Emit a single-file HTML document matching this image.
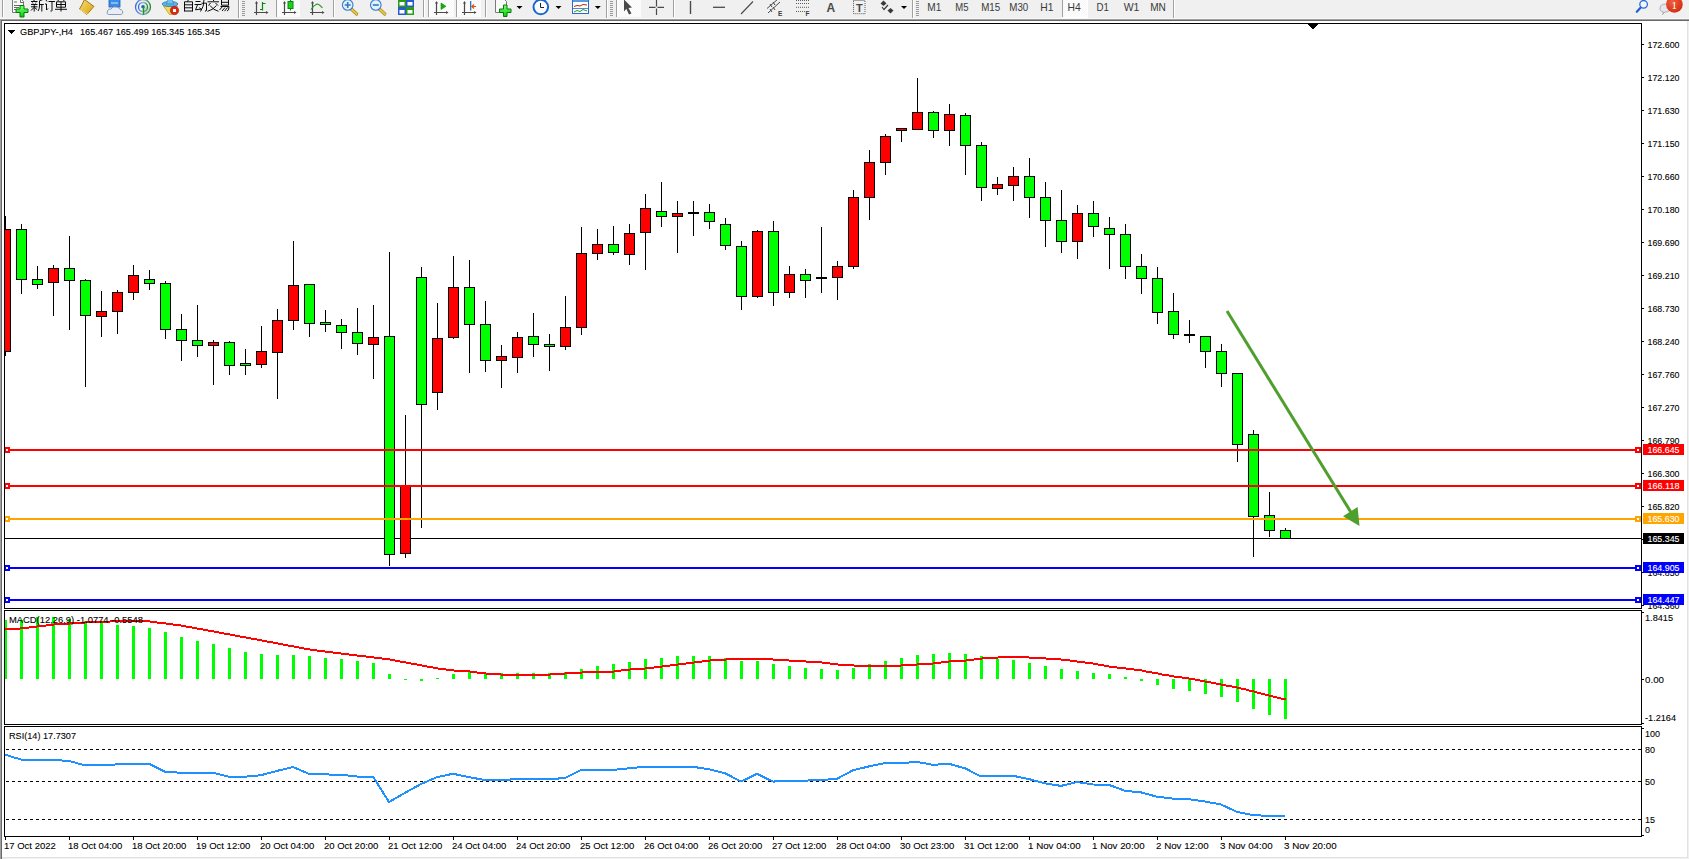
<!DOCTYPE html>
<html><head><meta charset="utf-8"><style>
html,body{margin:0;padding:0;width:1689px;height:859px;overflow:hidden;background:#f0f0f0}
svg{display:block}
</style></head><body>
<svg width="1689" height="859" viewBox="0 0 1689 859" shape-rendering="crispEdges" font-family='"Liberation Sans", sans-serif'>
<defs><clipPath id="cmain"><rect x="5" y="24" width="1636" height="584"/></clipPath><clipPath id="cmacd"><rect x="5" y="611" width="1636" height="113"/></clipPath><clipPath id="crsi"><rect x="5" y="727" width="1636" height="109"/></clipPath></defs>
<rect x="0" y="0" width="1689" height="859" fill="#f0f0f0"/>
<g shape-rendering="auto">
<defs><pattern id="chk" width="2" height="2" patternUnits="userSpaceOnUse"><rect width="2" height="2" fill="#f7f7f7"/><rect width="1" height="1" fill="#ffffff"/><rect x="1" y="1" width="1" height="1" fill="#ffffff"/></pattern><linearGradient id="gplus" x1="0" y1="0" x2="0" y2="1"><stop offset="0" stop-color="#80ff80"/><stop offset="1" stop-color="#00d000"/></linearGradient><radialGradient id="gbadge" cx="0.4" cy="0.35" r="0.7"><stop offset="0" stop-color="#f06040"/><stop offset="1" stop-color="#d42a10"/></radialGradient></defs>
<rect x="2" y="0" width="1" height="17" fill="#a0a0a0"/>
<rect x="3" y="0" width="1" height="17" fill="#ffffff"/>
<path d="M12.5 -1 H21 L23.5 1.5 V12.5 H12.5 Z" fill="#fafafa" stroke="#7a7a7a" stroke-width="1"/>
<path d="M14 2 H17 M14 5.5 H20 M14 7.5 H19 M14 9.5 H16" stroke="#6a6a6a" stroke-width="1"/>
<path d="M20.5 -1 V2.5 H24" stroke="#6a6a6a" stroke-width="1" fill="none"/>
<path d="M20 5.5 H24 V9 H28 V12.5 H24 V17 H20 V12.5 H16 V9 H20 Z" fill="url(#gplus)" stroke="#067a06" stroke-width="1"/>
<g stroke="#000" stroke-width="0.95" fill="none"><path d="M34 -0.5 V1 M31 1.5 H37.5 M32.5 2.5 L33 3.5 M36 2.5 L35.5 3.5 M31 4.5 H37.5 M31 6.8 H37.5 M34.2 4.5 V11.5 M34 7.5 L31 10.5 M34.5 7.5 L37 9.5"/><path d="M43 -0.5 L39.5 0.8 V6 Q39.5 9 38 11 M39.5 4.5 H43.8 M41.8 4.5 V11.5"/><path d="M46 0 L47 1.5 M45 4 H46.5 V10 L48 8.5 M48.5 1.5 H55 M52 1.5 V10.5 Q52 11.5 50.5 11"/><path d="M57.5 -0.5 L58.5 1 M64.5 -0.5 L63.5 1 M56.5 1.8 H65.5 V7.2 H56.5 Z M56.5 4.5 H65.5 M61 1.8 V11.5 M55 9.3 H67"/></g>
<defs><linearGradient id="gbook" x1="0" y1="0" x2="1" y2="1"><stop offset="0" stop-color="#f8e070"/><stop offset="1" stop-color="#d8a010"/></linearGradient></defs>
<path d="M84.5 -0.5 L94 6.5 L87 14.5 L79.5 9 Q82 5 84.5 -0.5 Z" fill="url(#gbook)" stroke="#9a6a10" stroke-width="0.9"/>
<path d="M80 9.5 L88 14.5 L94.5 7" stroke="#fff2b0" stroke-width="0.8" fill="none"/>
<rect x="109" y="-1" width="11" height="8" fill="#3a8ee8" stroke="#1e5eb8" stroke-width="0.8"/>
<path d="M111 3 H118" stroke="#cfe6ff" stroke-width="1"/>
<path d="M108.5 14.5 Q106 14 107.5 11 Q108 8.5 111 9 Q112.5 6 116 7 Q119 6.5 120 9.5 Q123.5 10 122.5 13.5 Q122 14.5 120 14.5 Z" fill="#e8eef8" stroke="#8090b0" stroke-width="0.9"/>
<defs><linearGradient id="grad" x1="0" y1="0" x2="1" y2="0"><stop offset="0" stop-color="#3a6ad8"/><stop offset="0.5" stop-color="#9ab8d8"/><stop offset="1" stop-color="#2a8a40"/></linearGradient><radialGradient id="gradf" cx="0" cy="0" r="1"><stop offset="0" stop-color="#e8f4e0"/><stop offset="1" stop-color="#7ac080"/></radialGradient></defs>
<path d="M143 7 L151 7 A8 8 0 0 1 143 15 Z" fill="#b8dcb0" opacity="0.8"/>
<path d="M143 -1 A8 8 0 0 1 151 7 L143 7 Z" fill="#d8ecd8" opacity="0.7"/>
<g fill="none" stroke="url(#grad)" stroke-width="1.3"><circle cx="143" cy="7" r="7.5"/><circle cx="143" cy="7" r="4.5"/></g>
<circle cx="143" cy="6.8" r="1.8" fill="#2a5ad0"/>
<path d="M143.5 7 V14.8" stroke="#10a010" stroke-width="1.4"/>
<path d="M163.5 6 L177.5 6 L172 14.5 L169.5 14.5 Z" fill="#f4dc50" stroke="#c09a20" stroke-width="0.8"/>
<ellipse cx="170" cy="4" rx="7.8" ry="2.6" fill="#5ab4e4" stroke="#2a78b8" stroke-width="0.8"/>
<path d="M166.5 4 Q167 -1 170 -1 Q173 -1 173.5 4 Z" fill="#72c0ec" stroke="#2a78b8" stroke-width="0.6"/>
<circle cx="174.5" cy="10.5" r="4.2" fill="#d82a18" stroke="#a81a08" stroke-width="0.6"/>
<rect x="173" y="9" width="3" height="3" fill="#fff"/>
<g stroke="#000" stroke-width="0.95" fill="none"><path d="M188.5 -0.5 L187.5 1.5 M184.5 1.8 H192.5 V11.5 M184.5 1.8 V11.5 M184.5 4.8 H192.5 M184.5 7.8 H192.5 M184.5 11 H192.5"/><path d="M195.5 1.5 H200.5 M194.5 4.5 H201.5 M197.5 4.8 L195.5 9.8 L201.5 9 M199.5 7.5 L201 9.5"/><path d="M201.5 3.2 H206.5 V10 Q206.5 11.5 205 11 M204 -0.5 Q204 7 200.5 11.5"/><path d="M213 -0.5 L213.8 1 M207.5 1.8 H219 M210.5 3 L208.5 5.5 M215.5 3 L218 5.5 M210 5.5 Q213 10 218.5 11.3 M216.5 5.5 Q213 10 207.5 11.3"/><path d="M221.5 -0.5 V5.2 H228.5 V-0.5 M221.5 2.3 H228.5 M220.5 6.5 H229 Q229 11 227 11 M222.5 6.5 L219.5 10 M225 7.5 L222 11 M227.5 7.5 L224.5 11.2"/></g>
<rect x="238" y="0" width="1" height="19" fill="#a0a0a0"/>
<rect x="239" y="0" width="1" height="19" fill="#ffffff"/>
<rect x="242" y="1" width="3" height="1" fill="#9a9a9a"/>
<rect x="242" y="3" width="3" height="1" fill="#9a9a9a"/>
<rect x="242" y="5" width="3" height="1" fill="#9a9a9a"/>
<rect x="242" y="7" width="3" height="1" fill="#9a9a9a"/>
<rect x="242" y="9" width="3" height="1" fill="#9a9a9a"/>
<rect x="242" y="11" width="3" height="1" fill="#9a9a9a"/>
<rect x="242" y="13" width="3" height="1" fill="#9a9a9a"/>
<rect x="242" y="15" width="3" height="1" fill="#9a9a9a"/>
<path d="M256.5 2 V15 M254 12.5 H267.5" stroke="#4a4a4a" stroke-width="1.2" fill="none"/>
<polygon points="255,3.5 256.5,1 258,3.5" fill="#4a4a4a"/><polygon points="266,11 268.5,12.5 266,14" fill="#4a4a4a"/>
<path d="M262.5 2 V10.5 M262.5 3.5 H265.5 M260 9.5 H262.5" stroke="#0a8a0a" stroke-width="1.2" fill="none"/>
<rect x="276" y="0" width="1" height="17" fill="#a0a0a0"/>
<rect x="277" y="0" width="1" height="17" fill="#ffffff"/>
<rect x="277" y="0" width="23" height="17" fill="url(#chk)"/>
<path d="M284.5 2 V15 M282 12.5 H295.5" stroke="#4a4a4a" stroke-width="1.2" fill="none"/>
<polygon points="283,3.5 284.5,1 286,3.5" fill="#4a4a4a"/><polygon points="294,11 296.5,12.5 294,14" fill="#4a4a4a"/>
<path d="M290.5 -1 V10.5" stroke="#0a8a0a" stroke-width="1"/>
<rect x="288" y="1.5" width="5" height="7" fill="#20d020" stroke="#0a8a0a" stroke-width="1"/>
<path d="M312.5 2 V15 M310 12.5 H323.5" stroke="#4a4a4a" stroke-width="1.2" fill="none"/>
<polygon points="311,3.5 312.5,1 314,3.5" fill="#4a4a4a"/><polygon points="322,11 324.5,12.5 322,14" fill="#4a4a4a"/>
<path d="M311 9.5 Q314 5 317 4 Q319 4 322.5 8" stroke="#1a9a1a" stroke-width="1.1" fill="none"/>
<rect x="333" y="0" width="1" height="17" fill="#a0a0a0"/>
<rect x="334" y="0" width="1" height="17" fill="#ffffff"/>
<path d="M350.7 8.5 L356.7 14" stroke="#a08020" stroke-width="3.2" stroke-linecap="round"/>
<path d="M350.7 8.5 L356.7 14" stroke="#e8c840" stroke-width="2" stroke-linecap="round"/>
<circle cx="347.7" cy="5" r="5.3" fill="#dff2ff" stroke="#3a7cc8" stroke-width="1.1"/>
<path d="M344.7 5 H350.7 M347.7 2 V8" stroke="#3a78b8" stroke-width="1.6"/>
<path d="M378.8 8.5 L384.8 14" stroke="#a08020" stroke-width="3.2" stroke-linecap="round"/>
<path d="M378.8 8.5 L384.8 14" stroke="#e8c840" stroke-width="2" stroke-linecap="round"/>
<circle cx="375.8" cy="5" r="5.3" fill="#dff2ff" stroke="#3a7cc8" stroke-width="1.1"/>
<path d="M372.8 5 H378.8" stroke="#3a78b8" stroke-width="1.6"/>
<rect x="398" y="-1" width="8" height="8" fill="#2a9a1a"/>
<rect x="399.5" y="2" width="5" height="3.5" fill="#ffffff"/>
<rect x="406" y="-1" width="8" height="8" fill="#2a5ad0"/>
<rect x="407.5" y="2" width="5" height="3.5" fill="#ffffff"/>
<rect x="398" y="7" width="8" height="8" fill="#2a5ad0"/>
<rect x="399.5" y="10" width="5" height="3.5" fill="#ffffff"/>
<rect x="406" y="7" width="8" height="8" fill="#2a9a1a"/>
<rect x="407.5" y="10" width="5" height="3.5" fill="#ffffff"/>
<rect x="423" y="0" width="1" height="17" fill="#a0a0a0"/>
<rect x="424" y="0" width="1" height="17" fill="#ffffff"/>
<rect x="428" y="0" width="1" height="17" fill="#a0a0a0"/>
<rect x="429" y="0" width="1" height="17" fill="#ffffff"/>
<rect x="430" y="0" width="24" height="17" fill="url(#chk)"/>
<path d="M436.5 2 V15 M434 12.5 H447.5" stroke="#4a4a4a" stroke-width="1.2" fill="none"/>
<polygon points="435,3.5 436.5,1 438,3.5" fill="#4a4a4a"/><polygon points="446,11 448.5,12.5 446,14" fill="#4a4a4a"/>
<polygon points="441,3 446,6.3 441,9.5" fill="#10b010" stroke="#0a8a0a" stroke-width="0.6"/>
<rect x="456" y="0" width="1" height="17" fill="#a0a0a0"/>
<rect x="457" y="0" width="1" height="17" fill="#ffffff"/>
<rect x="458" y="0" width="23" height="17" fill="url(#chk)"/>
<path d="M464.5 2 V15 M462 12.5 H475.5" stroke="#4a4a4a" stroke-width="1.2" fill="none"/>
<polygon points="463,3.5 464.5,1 466,3.5" fill="#4a4a4a"/><polygon points="474,11 476.5,12.5 474,14" fill="#4a4a4a"/>
<path d="M470.7 1 V10.5" stroke="#1a6ab8" stroke-width="1.2"/>
<path d="M476 6.5 H472 M474 4.5 L471.8 6.5 L474 8.5" stroke="#e05010" stroke-width="1.2" fill="none"/>
<rect x="485" y="0" width="1" height="17" fill="#a0a0a0"/>
<rect x="486" y="0" width="1" height="17" fill="#ffffff"/>
<path d="M495.5 -1 H504 L506.5 1.5 V12.5 H495.5 Z" fill="#fafafa" stroke="#7a7a7a" stroke-width="1"/>
<path d="M503.5 5 H507 V9 H511 V12.5 H507 V16.5 H503.5 V12.5 H499.5 V9 H503.5 Z" fill="url(#gplus)" stroke="#067a06" stroke-width="1"/>
<polygon points="516.5,6 522.5,6 519.5,9" fill="#000"/>
<circle cx="540.8" cy="7" r="7.3" fill="#fafcff" stroke="#1a66cc" stroke-width="2"/>
<path d="M540.5 3 V7.5 H544" stroke="#222" stroke-width="1" fill="none"/>
<polygon points="555.5,6 561.5,6 558.5,9" fill="#000"/>
<rect x="572.5" y="-0.5" width="16" height="14" fill="#ffffff" stroke="#2a6ac8" stroke-width="1"/>
<rect x="573" y="0" width="15" height="2" fill="#5a9ae0"/>
<path d="M574 6.5 L577 5.5 L580 6 L583 4.5 L587 5" stroke="#b02a10" stroke-width="1" fill="none"/>
<rect x="573" y="8" width="15" height="0.8" fill="#2a6ac8"/>
<path d="M574 12 L577 10.5 L580 11.5 L583 9.5 L587 11" stroke="#20a020" stroke-width="1" fill="none"/>
<polygon points="594.8,6 600.8,6 597.8,9" fill="#000"/>
<rect x="606" y="0" width="1" height="19" fill="#a0a0a0"/>
<rect x="607" y="0" width="1" height="19" fill="#ffffff"/>
<rect x="610" y="1" width="3" height="1" fill="#9a9a9a"/>
<rect x="610" y="3" width="3" height="1" fill="#9a9a9a"/>
<rect x="610" y="5" width="3" height="1" fill="#9a9a9a"/>
<rect x="610" y="7" width="3" height="1" fill="#9a9a9a"/>
<rect x="610" y="9" width="3" height="1" fill="#9a9a9a"/>
<rect x="610" y="11" width="3" height="1" fill="#9a9a9a"/>
<rect x="610" y="13" width="3" height="1" fill="#9a9a9a"/>
<rect x="610" y="15" width="3" height="1" fill="#9a9a9a"/>
<rect x="616" y="0" width="1" height="17" fill="#a0a0a0"/>
<rect x="617" y="0" width="1" height="17" fill="#ffffff"/>
<rect x="618" y="0" width="23" height="17" fill="url(#chk)"/>
<polygon points="624,-0.5 632,7.5 628.5,8 631.5,13.5 629,14.5 626.3,8.8 624,11.5" fill="#4a4a4a"/>
<path d="M649 7.3 H655.5 M657.5 7.3 H664 M656.5 0 V6.5 M656.5 8.5 V15" stroke="#4a4a4a" stroke-width="1.2" fill="none"/>
<rect x="673" y="0" width="1" height="17" fill="#a0a0a0"/>
<rect x="674" y="0" width="1" height="17" fill="#ffffff"/>
<path d="M690.5 1 V14" stroke="#4a4a4a" stroke-width="1.4"/>
<path d="M713 7.3 H725" stroke="#4a4a4a" stroke-width="1.3"/>
<path d="M741 14 L753 1.5" stroke="#4a4a4a" stroke-width="1.1"/>
<path d="M767 8.5 L778 -1 M768 13 L780 2 M770 4 L772 7 M773 2 L775 5 M770 9 L772 12 M773 7 L775 10" stroke="#4a4a4a" stroke-width="1" fill="none"/>
<text x="778" y="15.5" font-size="6.5" font-weight="bold" fill="#3a3a3a">E</text>
<path d="M796 0.5 H809 M796 3.5 H809 M796 7.3 H809 M796 11.5 H805" stroke="#4a4a4a" stroke-width="0.9" stroke-dasharray="1,1" fill="none"/>
<text x="805.5" y="16" font-size="6.5" font-weight="bold" fill="#3a3a3a">F</text>
<text x="826.5" y="12" font-size="12" font-weight="bold" fill="#4a4a4a">A</text>
<rect x="853.5" y="0.5" width="11.5" height="13.2" fill="none" stroke="#4a4a4a" stroke-width="0.9" stroke-dasharray="1,1"/>
<text x="856" y="12" font-size="11" font-weight="bold" fill="#4a4a4a">T</text>
<polygon points="880.5,3.5 883.5,0.5 886.5,3.5 883.5,6" fill="#3a3a3a"/>
<path d="M882 7 L884 9.5 L888 5" stroke="#3a3a3a" stroke-width="1.2" fill="none"/>
<polygon points="887.5,10.5 890.5,8 893.5,10.5 890.5,13.5" fill="#3a3a3a"/>
<polygon points="901,6 907,6 904,9" fill="#000"/>
<rect x="912" y="0" width="1" height="19" fill="#a0a0a0"/>
<rect x="913" y="0" width="1" height="19" fill="#ffffff"/>
<rect x="916" y="1" width="3" height="1" fill="#9a9a9a"/>
<rect x="916" y="3" width="3" height="1" fill="#9a9a9a"/>
<rect x="916" y="5" width="3" height="1" fill="#9a9a9a"/>
<rect x="916" y="7" width="3" height="1" fill="#9a9a9a"/>
<rect x="916" y="9" width="3" height="1" fill="#9a9a9a"/>
<rect x="916" y="11" width="3" height="1" fill="#9a9a9a"/>
<rect x="916" y="13" width="3" height="1" fill="#9a9a9a"/>
<rect x="916" y="15" width="3" height="1" fill="#9a9a9a"/>
<text x="927.3" y="11" font-size="10.2" fill="#3a3a3a" textLength="14" lengthAdjust="spacingAndGlyphs">M1</text>
<text x="955.3" y="11" font-size="10.2" fill="#3a3a3a" textLength="13.2" lengthAdjust="spacingAndGlyphs">M5</text>
<text x="981.2" y="11" font-size="10.2" fill="#3a3a3a" textLength="19" lengthAdjust="spacingAndGlyphs">M15</text>
<text x="1009.3" y="11" font-size="10.2" fill="#3a3a3a" textLength="19" lengthAdjust="spacingAndGlyphs">M30</text>
<text x="1040.2" y="11" font-size="10.2" fill="#3a3a3a" textLength="13.2" lengthAdjust="spacingAndGlyphs">H1</text>
<rect x="1063" y="0" width="24" height="17" fill="url(#chk)"/>
<rect x="1062" y="0" width="1" height="17" fill="#a0a0a0"/>
<rect x="1087" y="0" width="1" height="18" fill="#ffffff"/>
<rect x="1062" y="17" width="26" height="1" fill="#ffffff"/>
<text x="1067.6" y="11" font-size="10.2" fill="#3a3a3a" textLength="13.2" lengthAdjust="spacingAndGlyphs">H4</text>
<text x="1096.4" y="11" font-size="10.2" fill="#3a3a3a" textLength="12.4" lengthAdjust="spacingAndGlyphs">D1</text>
<text x="1123.7" y="11" font-size="10.2" fill="#3a3a3a" textLength="15.7" lengthAdjust="spacingAndGlyphs">W1</text>
<text x="1150.2" y="11" font-size="10.2" fill="#3a3a3a" textLength="15.7" lengthAdjust="spacingAndGlyphs">MN</text>
<rect x="1173" y="0" width="1" height="19" fill="#a0a0a0"/>
<rect x="1174" y="0" width="1" height="19" fill="#ffffff"/>
<path d="M1640.5 7.8 L1636.8 11.8" stroke="#2060d0" stroke-width="2.2" stroke-linecap="round"/>
<circle cx="1643.6" cy="4.3" r="3.8" fill="#f4f6ff" stroke="#2a6ad8" stroke-width="1.3"/>
<path d="M1662.5 14.5 L1663.5 12 Q1659.5 11.5 1660 8 Q1660.5 4 1665.5 4 Q1670.5 4 1670.5 8.5 Q1670 12 1665 12 Z" fill="#e4e4ee" stroke="#a0a0a0" stroke-width="0.8"/>
<circle cx="1674.4" cy="4.4" r="8.3" fill="url(#gbadge)"/>
<text x="1674.3" y="9" font-size="11" fill="#fff" text-anchor="middle" font-family="Liberation Serif, serif">1</text>
</g>
<rect x="0" y="18" width="1689" height="1" fill="#f9f9f9"/>
<rect x="0" y="19" width="1689" height="1" fill="#a0a0a0"/>
<rect x="0" y="20" width="1689" height="1" fill="#696969"/>
<rect x="0" y="20" width="1" height="839" fill="#a0a0a0"/>
<rect x="1" y="20" width="1" height="839" fill="#696969"/>
<rect x="2" y="21" width="1685" height="836" fill="#ffffff"/>
<rect x="1687" y="21" width="1" height="837" fill="#e3e3e3"/>
<rect x="2" y="857" width="1686" height="1" fill="#e3e3e3"/>
<rect x="4" y="23" width="1638" height="1" fill="#000"/>
<rect x="4" y="608" width="1638" height="1" fill="#000"/>
<rect x="4" y="23" width="1" height="586" fill="#000"/>
<rect x="1641" y="23" width="1" height="586" fill="#000"/>
<rect x="4" y="610" width="1638" height="1" fill="#000"/>
<rect x="4" y="724" width="1638" height="1" fill="#000"/>
<rect x="4" y="610" width="1" height="115" fill="#000"/>
<rect x="1641" y="610" width="1" height="115" fill="#000"/>
<rect x="4" y="726" width="1638" height="1" fill="#000"/>
<rect x="4" y="836" width="1638" height="1" fill="#000"/>
<rect x="4" y="726" width="1" height="111" fill="#000"/>
<rect x="1641" y="726" width="1" height="111" fill="#000"/>
<g clip-path="url(#cmain)">
<rect x="5" y="538" width="1636" height="1" fill="#000"/>
<rect x="5" y="216" width="1" height="140" fill="#000"/>
<rect x="0" y="229" width="11" height="123" fill="#000"/>
<rect x="1" y="230" width="9" height="121" fill="#ff0000"/>
<rect x="21" y="224" width="1" height="70" fill="#000"/>
<rect x="16" y="229" width="11" height="51" fill="#000"/>
<rect x="17" y="230" width="9" height="49" fill="#00ff00"/>
<rect x="37" y="266" width="1" height="23" fill="#000"/>
<rect x="32" y="279" width="11" height="6" fill="#000"/>
<rect x="33" y="280" width="9" height="4" fill="#00ff00"/>
<rect x="53" y="265" width="1" height="51" fill="#000"/>
<rect x="48" y="268" width="11" height="15" fill="#000"/>
<rect x="49" y="269" width="9" height="13" fill="#ff0000"/>
<rect x="69" y="236" width="1" height="94" fill="#000"/>
<rect x="64" y="268" width="11" height="13" fill="#000"/>
<rect x="65" y="269" width="9" height="11" fill="#00ff00"/>
<rect x="85" y="279" width="1" height="108" fill="#000"/>
<rect x="80" y="280" width="11" height="36" fill="#000"/>
<rect x="81" y="281" width="9" height="34" fill="#00ff00"/>
<rect x="101" y="291" width="1" height="46" fill="#000"/>
<rect x="96" y="311" width="11" height="6" fill="#000"/>
<rect x="97" y="312" width="9" height="4" fill="#ff0000"/>
<rect x="117" y="290" width="1" height="44" fill="#000"/>
<rect x="112" y="292" width="11" height="20" fill="#000"/>
<rect x="113" y="293" width="9" height="18" fill="#ff0000"/>
<rect x="133" y="265" width="1" height="35" fill="#000"/>
<rect x="128" y="275" width="11" height="18" fill="#000"/>
<rect x="129" y="276" width="9" height="16" fill="#ff0000"/>
<rect x="149" y="270" width="1" height="20" fill="#000"/>
<rect x="144" y="279" width="11" height="5" fill="#000"/>
<rect x="145" y="280" width="9" height="3" fill="#00ff00"/>
<rect x="165" y="281" width="1" height="58" fill="#000"/>
<rect x="160" y="283" width="11" height="47" fill="#000"/>
<rect x="161" y="284" width="9" height="45" fill="#00ff00"/>
<rect x="181" y="314" width="1" height="47" fill="#000"/>
<rect x="176" y="329" width="11" height="12" fill="#000"/>
<rect x="177" y="330" width="9" height="10" fill="#00ff00"/>
<rect x="197" y="305" width="1" height="52" fill="#000"/>
<rect x="192" y="340" width="11" height="6" fill="#000"/>
<rect x="193" y="341" width="9" height="4" fill="#00ff00"/>
<rect x="213" y="340" width="1" height="45" fill="#000"/>
<rect x="208" y="342" width="11" height="4" fill="#000"/>
<rect x="209" y="343" width="9" height="2" fill="#ff0000"/>
<rect x="229" y="341" width="1" height="34" fill="#000"/>
<rect x="224" y="342" width="11" height="24" fill="#000"/>
<rect x="225" y="343" width="9" height="22" fill="#00ff00"/>
<rect x="245" y="349" width="1" height="26" fill="#000"/>
<rect x="240" y="363" width="11" height="3" fill="#000"/>
<rect x="241" y="364" width="9" height="1" fill="#00ff00"/>
<rect x="261" y="326" width="1" height="42" fill="#000"/>
<rect x="256" y="351" width="11" height="14" fill="#000"/>
<rect x="257" y="352" width="9" height="12" fill="#ff0000"/>
<rect x="277" y="309" width="1" height="90" fill="#000"/>
<rect x="272" y="320" width="11" height="33" fill="#000"/>
<rect x="273" y="321" width="9" height="31" fill="#ff0000"/>
<rect x="293" y="241" width="1" height="89" fill="#000"/>
<rect x="288" y="285" width="11" height="36" fill="#000"/>
<rect x="289" y="286" width="9" height="34" fill="#ff0000"/>
<rect x="309" y="284" width="1" height="53" fill="#000"/>
<rect x="304" y="284" width="11" height="40" fill="#000"/>
<rect x="305" y="285" width="9" height="38" fill="#00ff00"/>
<rect x="325" y="310" width="1" height="22" fill="#000"/>
<rect x="320" y="322" width="11" height="3" fill="#000"/>
<rect x="321" y="323" width="9" height="1" fill="#00ff00"/>
<rect x="341" y="319" width="1" height="30" fill="#000"/>
<rect x="336" y="325" width="11" height="8" fill="#000"/>
<rect x="337" y="326" width="9" height="6" fill="#00ff00"/>
<rect x="357" y="308" width="1" height="47" fill="#000"/>
<rect x="352" y="332" width="11" height="12" fill="#000"/>
<rect x="353" y="333" width="9" height="10" fill="#00ff00"/>
<rect x="373" y="305" width="1" height="74" fill="#000"/>
<rect x="368" y="337" width="11" height="8" fill="#000"/>
<rect x="369" y="338" width="9" height="6" fill="#ff0000"/>
<rect x="389" y="252" width="1" height="314" fill="#000"/>
<rect x="384" y="336" width="11" height="219" fill="#000"/>
<rect x="385" y="337" width="9" height="217" fill="#00ff00"/>
<rect x="405" y="415" width="1" height="143" fill="#000"/>
<rect x="400" y="486" width="11" height="68" fill="#000"/>
<rect x="401" y="487" width="9" height="66" fill="#ff0000"/>
<rect x="421" y="267" width="1" height="261" fill="#000"/>
<rect x="416" y="277" width="11" height="128" fill="#000"/>
<rect x="417" y="278" width="9" height="126" fill="#00ff00"/>
<rect x="437" y="303" width="1" height="107" fill="#000"/>
<rect x="432" y="338" width="11" height="55" fill="#000"/>
<rect x="433" y="339" width="9" height="53" fill="#ff0000"/>
<rect x="453" y="256" width="1" height="83" fill="#000"/>
<rect x="448" y="287" width="11" height="51" fill="#000"/>
<rect x="449" y="288" width="9" height="49" fill="#ff0000"/>
<rect x="469" y="260" width="1" height="113" fill="#000"/>
<rect x="464" y="287" width="11" height="38" fill="#000"/>
<rect x="465" y="288" width="9" height="36" fill="#00ff00"/>
<rect x="485" y="301" width="1" height="71" fill="#000"/>
<rect x="480" y="324" width="11" height="37" fill="#000"/>
<rect x="481" y="325" width="9" height="35" fill="#00ff00"/>
<rect x="501" y="345" width="1" height="43" fill="#000"/>
<rect x="496" y="356" width="11" height="5" fill="#000"/>
<rect x="497" y="357" width="9" height="3" fill="#ff0000"/>
<rect x="517" y="332" width="1" height="41" fill="#000"/>
<rect x="512" y="337" width="11" height="21" fill="#000"/>
<rect x="513" y="338" width="9" height="19" fill="#ff0000"/>
<rect x="533" y="313" width="1" height="44" fill="#000"/>
<rect x="528" y="336" width="11" height="9" fill="#000"/>
<rect x="529" y="337" width="9" height="7" fill="#00ff00"/>
<rect x="549" y="334" width="1" height="37" fill="#000"/>
<rect x="544" y="344" width="11" height="3" fill="#000"/>
<rect x="545" y="345" width="9" height="1" fill="#00ff00"/>
<rect x="565" y="296" width="1" height="54" fill="#000"/>
<rect x="560" y="327" width="11" height="20" fill="#000"/>
<rect x="561" y="328" width="9" height="18" fill="#ff0000"/>
<rect x="581" y="227" width="1" height="108" fill="#000"/>
<rect x="576" y="253" width="11" height="75" fill="#000"/>
<rect x="577" y="254" width="9" height="73" fill="#ff0000"/>
<rect x="597" y="229" width="1" height="31" fill="#000"/>
<rect x="592" y="244" width="11" height="10" fill="#000"/>
<rect x="593" y="245" width="9" height="8" fill="#ff0000"/>
<rect x="613" y="226" width="1" height="29" fill="#000"/>
<rect x="608" y="244" width="11" height="9" fill="#000"/>
<rect x="609" y="245" width="9" height="7" fill="#00ff00"/>
<rect x="629" y="224" width="1" height="41" fill="#000"/>
<rect x="624" y="233" width="11" height="22" fill="#000"/>
<rect x="625" y="234" width="9" height="20" fill="#ff0000"/>
<rect x="645" y="194" width="1" height="76" fill="#000"/>
<rect x="640" y="208" width="11" height="25" fill="#000"/>
<rect x="641" y="209" width="9" height="23" fill="#ff0000"/>
<rect x="661" y="182" width="1" height="45" fill="#000"/>
<rect x="656" y="211" width="11" height="6" fill="#000"/>
<rect x="657" y="212" width="9" height="4" fill="#00ff00"/>
<rect x="677" y="201" width="1" height="52" fill="#000"/>
<rect x="672" y="213" width="11" height="4" fill="#000"/>
<rect x="673" y="214" width="9" height="2" fill="#ff0000"/>
<rect x="693" y="201" width="1" height="35" fill="#000"/>
<rect x="688" y="212" width="11" height="2" fill="#000"/>
<rect x="709" y="204" width="1" height="25" fill="#000"/>
<rect x="704" y="212" width="11" height="10" fill="#000"/>
<rect x="705" y="213" width="9" height="8" fill="#00ff00"/>
<rect x="725" y="218" width="1" height="32" fill="#000"/>
<rect x="720" y="224" width="11" height="22" fill="#000"/>
<rect x="721" y="225" width="9" height="20" fill="#00ff00"/>
<rect x="741" y="241" width="1" height="69" fill="#000"/>
<rect x="736" y="246" width="11" height="51" fill="#000"/>
<rect x="737" y="247" width="9" height="49" fill="#00ff00"/>
<rect x="757" y="230" width="1" height="68" fill="#000"/>
<rect x="752" y="231" width="11" height="66" fill="#000"/>
<rect x="753" y="232" width="9" height="64" fill="#ff0000"/>
<rect x="773" y="221" width="1" height="85" fill="#000"/>
<rect x="768" y="231" width="11" height="62" fill="#000"/>
<rect x="769" y="232" width="9" height="60" fill="#00ff00"/>
<rect x="789" y="266" width="1" height="32" fill="#000"/>
<rect x="784" y="274" width="11" height="19" fill="#000"/>
<rect x="785" y="275" width="9" height="17" fill="#ff0000"/>
<rect x="805" y="269" width="1" height="29" fill="#000"/>
<rect x="800" y="274" width="11" height="7" fill="#000"/>
<rect x="801" y="275" width="9" height="5" fill="#00ff00"/>
<rect x="821" y="227" width="1" height="66" fill="#000"/>
<rect x="816" y="277" width="11" height="2" fill="#000"/>
<rect x="837" y="261" width="1" height="39" fill="#000"/>
<rect x="832" y="266" width="11" height="12" fill="#000"/>
<rect x="833" y="267" width="9" height="10" fill="#ff0000"/>
<rect x="853" y="190" width="1" height="79" fill="#000"/>
<rect x="848" y="197" width="11" height="70" fill="#000"/>
<rect x="849" y="198" width="9" height="68" fill="#ff0000"/>
<rect x="869" y="150" width="1" height="70" fill="#000"/>
<rect x="864" y="162" width="11" height="36" fill="#000"/>
<rect x="865" y="163" width="9" height="34" fill="#ff0000"/>
<rect x="885" y="134" width="1" height="41" fill="#000"/>
<rect x="880" y="136" width="11" height="27" fill="#000"/>
<rect x="881" y="137" width="9" height="25" fill="#ff0000"/>
<rect x="901" y="128" width="1" height="14" fill="#000"/>
<rect x="896" y="128" width="11" height="3" fill="#000"/>
<rect x="897" y="129" width="9" height="1" fill="#ff0000"/>
<rect x="917" y="78" width="1" height="52" fill="#000"/>
<rect x="912" y="112" width="11" height="18" fill="#000"/>
<rect x="913" y="113" width="9" height="16" fill="#ff0000"/>
<rect x="933" y="111" width="1" height="27" fill="#000"/>
<rect x="928" y="112" width="11" height="19" fill="#000"/>
<rect x="929" y="113" width="9" height="17" fill="#00ff00"/>
<rect x="949" y="104" width="1" height="42" fill="#000"/>
<rect x="944" y="114" width="11" height="17" fill="#000"/>
<rect x="945" y="115" width="9" height="15" fill="#ff0000"/>
<rect x="965" y="113" width="1" height="62" fill="#000"/>
<rect x="960" y="115" width="11" height="31" fill="#000"/>
<rect x="961" y="116" width="9" height="29" fill="#00ff00"/>
<rect x="981" y="142" width="1" height="59" fill="#000"/>
<rect x="976" y="145" width="11" height="43" fill="#000"/>
<rect x="977" y="146" width="9" height="41" fill="#00ff00"/>
<rect x="997" y="177" width="1" height="18" fill="#000"/>
<rect x="992" y="184" width="11" height="5" fill="#000"/>
<rect x="993" y="185" width="9" height="3" fill="#ff0000"/>
<rect x="1013" y="167" width="1" height="34" fill="#000"/>
<rect x="1008" y="176" width="11" height="10" fill="#000"/>
<rect x="1009" y="177" width="9" height="8" fill="#ff0000"/>
<rect x="1029" y="158" width="1" height="60" fill="#000"/>
<rect x="1024" y="176" width="11" height="22" fill="#000"/>
<rect x="1025" y="177" width="9" height="20" fill="#00ff00"/>
<rect x="1045" y="182" width="1" height="65" fill="#000"/>
<rect x="1040" y="197" width="11" height="24" fill="#000"/>
<rect x="1041" y="198" width="9" height="22" fill="#00ff00"/>
<rect x="1061" y="190" width="1" height="63" fill="#000"/>
<rect x="1056" y="220" width="11" height="22" fill="#000"/>
<rect x="1057" y="221" width="9" height="20" fill="#00ff00"/>
<rect x="1077" y="205" width="1" height="54" fill="#000"/>
<rect x="1072" y="213" width="11" height="29" fill="#000"/>
<rect x="1073" y="214" width="9" height="27" fill="#ff0000"/>
<rect x="1093" y="201" width="1" height="36" fill="#000"/>
<rect x="1088" y="213" width="11" height="14" fill="#000"/>
<rect x="1089" y="214" width="9" height="12" fill="#00ff00"/>
<rect x="1109" y="217" width="1" height="52" fill="#000"/>
<rect x="1104" y="228" width="11" height="7" fill="#000"/>
<rect x="1105" y="229" width="9" height="5" fill="#00ff00"/>
<rect x="1125" y="224" width="1" height="55" fill="#000"/>
<rect x="1120" y="234" width="11" height="33" fill="#000"/>
<rect x="1121" y="235" width="9" height="31" fill="#00ff00"/>
<rect x="1141" y="254" width="1" height="40" fill="#000"/>
<rect x="1136" y="266" width="11" height="13" fill="#000"/>
<rect x="1137" y="267" width="9" height="11" fill="#00ff00"/>
<rect x="1157" y="267" width="1" height="57" fill="#000"/>
<rect x="1152" y="278" width="11" height="35" fill="#000"/>
<rect x="1153" y="279" width="9" height="33" fill="#00ff00"/>
<rect x="1173" y="293" width="1" height="46" fill="#000"/>
<rect x="1168" y="311" width="11" height="24" fill="#000"/>
<rect x="1169" y="312" width="9" height="22" fill="#00ff00"/>
<rect x="1189" y="320" width="1" height="23" fill="#000"/>
<rect x="1184" y="334" width="11" height="2" fill="#000"/>
<rect x="1205" y="336" width="1" height="32" fill="#000"/>
<rect x="1200" y="336" width="11" height="16" fill="#000"/>
<rect x="1201" y="337" width="9" height="14" fill="#00ff00"/>
<rect x="1221" y="344" width="1" height="43" fill="#000"/>
<rect x="1216" y="351" width="11" height="23" fill="#000"/>
<rect x="1217" y="352" width="9" height="21" fill="#00ff00"/>
<rect x="1237" y="373" width="1" height="89" fill="#000"/>
<rect x="1232" y="373" width="11" height="72" fill="#000"/>
<rect x="1233" y="374" width="9" height="70" fill="#00ff00"/>
<rect x="1253" y="430" width="1" height="127" fill="#000"/>
<rect x="1248" y="434" width="11" height="83" fill="#000"/>
<rect x="1249" y="435" width="9" height="81" fill="#00ff00"/>
<rect x="1269" y="492" width="1" height="45" fill="#000"/>
<rect x="1264" y="515" width="11" height="16" fill="#000"/>
<rect x="1265" y="516" width="9" height="14" fill="#00ff00"/>
<rect x="1285" y="528" width="1" height="10" fill="#000"/>
<rect x="1280" y="530" width="11" height="9" fill="#000"/>
<rect x="1281" y="531" width="9" height="7" fill="#00ff00"/>
<rect x="5" y="449" width="1636" height="2" fill="#ff0000"/>
<rect x="4" y="447" width="6" height="6" fill="#ff0000"/>
<rect x="6" y="449" width="2" height="2" fill="#fff"/>
<rect x="1635" y="447" width="6" height="6" fill="#ff0000"/>
<rect x="1637" y="449" width="2" height="2" fill="#fff"/>
<rect x="5" y="485" width="1636" height="2" fill="#ff0000"/>
<rect x="4" y="483" width="6" height="6" fill="#ff0000"/>
<rect x="6" y="485" width="2" height="2" fill="#fff"/>
<rect x="1635" y="483" width="6" height="6" fill="#ff0000"/>
<rect x="1637" y="485" width="2" height="2" fill="#fff"/>
<rect x="5" y="518" width="1636" height="2" fill="#ffa500"/>
<rect x="4" y="516" width="6" height="6" fill="#ffa500"/>
<rect x="6" y="518" width="2" height="2" fill="#fff"/>
<rect x="1635" y="516" width="6" height="6" fill="#ffa500"/>
<rect x="1637" y="518" width="2" height="2" fill="#fff"/>
<rect x="5" y="567" width="1636" height="2" fill="#0000ff"/>
<rect x="4" y="565" width="6" height="6" fill="#0000ff"/>
<rect x="6" y="567" width="2" height="2" fill="#fff"/>
<rect x="1635" y="565" width="6" height="6" fill="#0000ff"/>
<rect x="1637" y="567" width="2" height="2" fill="#fff"/>
<rect x="5" y="599" width="1636" height="2" fill="#0000ff"/>
<rect x="4" y="597" width="6" height="6" fill="#0000ff"/>
<rect x="6" y="599" width="2" height="2" fill="#fff"/>
<rect x="1635" y="597" width="6" height="6" fill="#0000ff"/>
<rect x="1637" y="599" width="2" height="2" fill="#fff"/>
</g>
<g shape-rendering="auto">
<line x1="1227" y1="311" x2="1352" y2="514" stroke="#4f9f2f" stroke-width="3"/>
<polygon points="1359.5,526 1343,516.3 1357.6,507" fill="#4f9f2f"/>
</g>
<rect x="8" y="30" width="7" height="1" fill="#000"/>
<rect x="9" y="31" width="5" height="1" fill="#000"/>
<rect x="10" y="32" width="3" height="1" fill="#000"/>
<rect x="11" y="33" width="1" height="1" fill="#000"/>
<text x="20" y="35" font-size="9.8" fill="#000" stroke="#000" stroke-width="0.1" textLength="53" lengthAdjust="spacingAndGlyphs" >GBPJPY-,H4</text>
<text x="80" y="35" font-size="9.8" fill="#000" stroke="#000" stroke-width="0.1" textLength="140" lengthAdjust="spacingAndGlyphs" >165.467 165.499 165.345 165.345</text>
<rect x="1308" y="24" width="10" height="1" fill="#000"/>
<rect x="1309" y="25" width="8" height="1" fill="#000"/>
<rect x="1310" y="26" width="6" height="1" fill="#000"/>
<rect x="1311" y="27" width="4" height="1" fill="#000"/>
<rect x="1312" y="28" width="2" height="1" fill="#000"/>
<rect x="1642" y="44" width="2" height="1" fill="#000"/>
<text x="1647.5" y="48" font-size="9.8" fill="#000" stroke="#000" stroke-width="0.1" textLength="32" lengthAdjust="spacingAndGlyphs" >172.600</text>
<rect x="1642" y="77" width="2" height="1" fill="#000"/>
<text x="1647.5" y="81" font-size="9.8" fill="#000" stroke="#000" stroke-width="0.1" textLength="32" lengthAdjust="spacingAndGlyphs" >172.120</text>
<rect x="1642" y="110" width="2" height="1" fill="#000"/>
<text x="1647.5" y="114" font-size="9.8" fill="#000" stroke="#000" stroke-width="0.1" textLength="32" lengthAdjust="spacingAndGlyphs" >171.630</text>
<rect x="1642" y="143" width="2" height="1" fill="#000"/>
<text x="1647.5" y="147" font-size="9.8" fill="#000" stroke="#000" stroke-width="0.1" textLength="32" lengthAdjust="spacingAndGlyphs" >171.150</text>
<rect x="1642" y="176" width="2" height="1" fill="#000"/>
<text x="1647.5" y="180" font-size="9.8" fill="#000" stroke="#000" stroke-width="0.1" textLength="32" lengthAdjust="spacingAndGlyphs" >170.660</text>
<rect x="1642" y="209" width="2" height="1" fill="#000"/>
<text x="1647.5" y="213" font-size="9.8" fill="#000" stroke="#000" stroke-width="0.1" textLength="32" lengthAdjust="spacingAndGlyphs" >170.180</text>
<rect x="1642" y="242" width="2" height="1" fill="#000"/>
<text x="1647.5" y="246" font-size="9.8" fill="#000" stroke="#000" stroke-width="0.1" textLength="32" lengthAdjust="spacingAndGlyphs" >169.690</text>
<rect x="1642" y="275" width="2" height="1" fill="#000"/>
<text x="1647.5" y="279" font-size="9.8" fill="#000" stroke="#000" stroke-width="0.1" textLength="32" lengthAdjust="spacingAndGlyphs" >169.210</text>
<rect x="1642" y="308" width="2" height="1" fill="#000"/>
<text x="1647.5" y="312" font-size="9.8" fill="#000" stroke="#000" stroke-width="0.1" textLength="32" lengthAdjust="spacingAndGlyphs" >168.730</text>
<rect x="1642" y="341" width="2" height="1" fill="#000"/>
<text x="1647.5" y="345" font-size="9.8" fill="#000" stroke="#000" stroke-width="0.1" textLength="32" lengthAdjust="spacingAndGlyphs" >168.240</text>
<rect x="1642" y="374" width="2" height="1" fill="#000"/>
<text x="1647.5" y="378" font-size="9.8" fill="#000" stroke="#000" stroke-width="0.1" textLength="32" lengthAdjust="spacingAndGlyphs" >167.760</text>
<rect x="1642" y="407" width="2" height="1" fill="#000"/>
<text x="1647.5" y="411" font-size="9.8" fill="#000" stroke="#000" stroke-width="0.1" textLength="32" lengthAdjust="spacingAndGlyphs" >167.270</text>
<rect x="1642" y="440" width="2" height="1" fill="#000"/>
<text x="1647.5" y="444" font-size="9.8" fill="#000" stroke="#000" stroke-width="0.1" textLength="32" lengthAdjust="spacingAndGlyphs" >166.790</text>
<rect x="1642" y="473" width="2" height="1" fill="#000"/>
<text x="1647.5" y="477" font-size="9.8" fill="#000" stroke="#000" stroke-width="0.1" textLength="32" lengthAdjust="spacingAndGlyphs" >166.300</text>
<rect x="1642" y="506" width="2" height="1" fill="#000"/>
<text x="1647.5" y="510" font-size="9.8" fill="#000" stroke="#000" stroke-width="0.1" textLength="32" lengthAdjust="spacingAndGlyphs" >165.820</text>
<rect x="1642" y="539" width="2" height="1" fill="#000"/>
<text x="1647.5" y="543" font-size="9.8" fill="#000" stroke="#000" stroke-width="0.1" textLength="32" lengthAdjust="spacingAndGlyphs" >165.340</text>
<rect x="1642" y="572" width="2" height="1" fill="#000"/>
<text x="1647.5" y="576" font-size="9.8" fill="#000" stroke="#000" stroke-width="0.1" textLength="32" lengthAdjust="spacingAndGlyphs" >164.850</text>
<rect x="1642" y="605" width="2" height="1" fill="#000"/>
<text x="1647.5" y="609" font-size="9.8" fill="#000" stroke="#000" stroke-width="0.1" textLength="32" lengthAdjust="spacingAndGlyphs" >164.360</text>
<rect x="1643" y="444" width="41" height="11" fill="#ff0000"/>
<text x="1647.5" y="453" font-size="9.8" fill="#fff" stroke="#fff" stroke-width="0.1" textLength="32" lengthAdjust="spacingAndGlyphs" >166.645</text>
<rect x="1643" y="480" width="41" height="11" fill="#ff0000"/>
<text x="1647.5" y="489" font-size="9.8" fill="#fff" stroke="#fff" stroke-width="0.1" textLength="32" lengthAdjust="spacingAndGlyphs" >166.118</text>
<rect x="1643" y="513" width="41" height="11" fill="#ffa500"/>
<text x="1647.5" y="522" font-size="9.8" fill="#fff" stroke="#fff" stroke-width="0.1" textLength="32" lengthAdjust="spacingAndGlyphs" >165.630</text>
<rect x="1643" y="533" width="41" height="11" fill="#000"/>
<text x="1647.5" y="542" font-size="9.8" fill="#fff" stroke="#fff" stroke-width="0.1" textLength="32" lengthAdjust="spacingAndGlyphs" >165.345</text>
<rect x="1643" y="562" width="41" height="11" fill="#0000ff"/>
<text x="1647.5" y="571" font-size="9.8" fill="#fff" stroke="#fff" stroke-width="0.1" textLength="32" lengthAdjust="spacingAndGlyphs" >164.905</text>
<rect x="1643" y="594" width="41" height="11" fill="#0000ff"/>
<text x="1647.5" y="603" font-size="9.8" fill="#fff" stroke="#fff" stroke-width="0.1" textLength="32" lengthAdjust="spacingAndGlyphs" >164.447</text>
<g clip-path="url(#cmacd)">
<rect x="4" y="620" width="3" height="59" fill="#00ff00"/>
<rect x="20" y="620" width="3" height="59" fill="#00ff00"/>
<rect x="36" y="617" width="3" height="62" fill="#00ff00"/>
<rect x="52" y="617" width="3" height="62" fill="#00ff00"/>
<rect x="68" y="619" width="3" height="60" fill="#00ff00"/>
<rect x="84" y="621" width="3" height="58" fill="#00ff00"/>
<rect x="100" y="623" width="3" height="56" fill="#00ff00"/>
<rect x="116" y="625" width="3" height="54" fill="#00ff00"/>
<rect x="132" y="626" width="3" height="53" fill="#00ff00"/>
<rect x="148" y="628" width="3" height="51" fill="#00ff00"/>
<rect x="164" y="632" width="3" height="47" fill="#00ff00"/>
<rect x="180" y="637" width="3" height="42" fill="#00ff00"/>
<rect x="196" y="641" width="3" height="38" fill="#00ff00"/>
<rect x="212" y="644" width="3" height="35" fill="#00ff00"/>
<rect x="228" y="648" width="3" height="31" fill="#00ff00"/>
<rect x="244" y="652" width="3" height="27" fill="#00ff00"/>
<rect x="260" y="654" width="3" height="25" fill="#00ff00"/>
<rect x="276" y="655" width="3" height="24" fill="#00ff00"/>
<rect x="292" y="655" width="3" height="24" fill="#00ff00"/>
<rect x="308" y="656" width="3" height="23" fill="#00ff00"/>
<rect x="324" y="658" width="3" height="21" fill="#00ff00"/>
<rect x="340" y="659" width="3" height="20" fill="#00ff00"/>
<rect x="356" y="661" width="3" height="18" fill="#00ff00"/>
<rect x="372" y="663" width="3" height="16" fill="#00ff00"/>
<rect x="388" y="674" width="3" height="5" fill="#00ff00"/>
<rect x="404" y="679" width="3" height="1" fill="#00ff00"/>
<rect x="420" y="679" width="3" height="2" fill="#00ff00"/>
<rect x="436" y="678" width="3" height="1" fill="#00ff00"/>
<rect x="452" y="674" width="3" height="5" fill="#00ff00"/>
<rect x="468" y="672" width="3" height="7" fill="#00ff00"/>
<rect x="484" y="673" width="3" height="6" fill="#00ff00"/>
<rect x="500" y="673" width="3" height="6" fill="#00ff00"/>
<rect x="516" y="673" width="3" height="6" fill="#00ff00"/>
<rect x="532" y="673" width="3" height="6" fill="#00ff00"/>
<rect x="548" y="673" width="3" height="6" fill="#00ff00"/>
<rect x="564" y="672" width="3" height="7" fill="#00ff00"/>
<rect x="580" y="669" width="3" height="10" fill="#00ff00"/>
<rect x="596" y="666" width="3" height="13" fill="#00ff00"/>
<rect x="612" y="664" width="3" height="15" fill="#00ff00"/>
<rect x="628" y="662" width="3" height="17" fill="#00ff00"/>
<rect x="644" y="659" width="3" height="20" fill="#00ff00"/>
<rect x="660" y="658" width="3" height="21" fill="#00ff00"/>
<rect x="676" y="656" width="3" height="23" fill="#00ff00"/>
<rect x="692" y="656" width="3" height="23" fill="#00ff00"/>
<rect x="708" y="656" width="3" height="23" fill="#00ff00"/>
<rect x="724" y="658" width="3" height="21" fill="#00ff00"/>
<rect x="740" y="661" width="3" height="18" fill="#00ff00"/>
<rect x="756" y="661" width="3" height="18" fill="#00ff00"/>
<rect x="772" y="664" width="3" height="15" fill="#00ff00"/>
<rect x="788" y="666" width="3" height="13" fill="#00ff00"/>
<rect x="804" y="668" width="3" height="11" fill="#00ff00"/>
<rect x="820" y="669" width="3" height="10" fill="#00ff00"/>
<rect x="836" y="670" width="3" height="9" fill="#00ff00"/>
<rect x="852" y="668" width="3" height="11" fill="#00ff00"/>
<rect x="868" y="664" width="3" height="15" fill="#00ff00"/>
<rect x="884" y="661" width="3" height="18" fill="#00ff00"/>
<rect x="900" y="658" width="3" height="21" fill="#00ff00"/>
<rect x="916" y="655" width="3" height="24" fill="#00ff00"/>
<rect x="932" y="654" width="3" height="25" fill="#00ff00"/>
<rect x="948" y="653" width="3" height="26" fill="#00ff00"/>
<rect x="964" y="654" width="3" height="25" fill="#00ff00"/>
<rect x="980" y="656" width="3" height="23" fill="#00ff00"/>
<rect x="996" y="659" width="3" height="20" fill="#00ff00"/>
<rect x="1012" y="660" width="3" height="19" fill="#00ff00"/>
<rect x="1028" y="663" width="3" height="16" fill="#00ff00"/>
<rect x="1044" y="666" width="3" height="13" fill="#00ff00"/>
<rect x="1060" y="669" width="3" height="10" fill="#00ff00"/>
<rect x="1076" y="671" width="3" height="8" fill="#00ff00"/>
<rect x="1092" y="673" width="3" height="6" fill="#00ff00"/>
<rect x="1108" y="674" width="3" height="5" fill="#00ff00"/>
<rect x="1124" y="677" width="3" height="2" fill="#00ff00"/>
<rect x="1140" y="679" width="3" height="2" fill="#00ff00"/>
<rect x="1156" y="679" width="3" height="6" fill="#00ff00"/>
<rect x="1172" y="679" width="3" height="10" fill="#00ff00"/>
<rect x="1188" y="679" width="3" height="12" fill="#00ff00"/>
<rect x="1204" y="679" width="3" height="15" fill="#00ff00"/>
<rect x="1220" y="679" width="3" height="18" fill="#00ff00"/>
<rect x="1236" y="679" width="3" height="23" fill="#00ff00"/>
<rect x="1252" y="679" width="3" height="30" fill="#00ff00"/>
<rect x="1268" y="679" width="3" height="36" fill="#00ff00"/>
<rect x="1284" y="679" width="3" height="40" fill="#00ff00"/>
<rect x="5" y="628" width="15" height="2" fill="#ff0000"/>
<rect x="20" y="627" width="9" height="2" fill="#ff0000"/>
<rect x="29" y="626" width="8" height="2" fill="#ff0000"/>
<rect x="37" y="625" width="9" height="2" fill="#ff0000"/>
<rect x="46" y="624" width="8" height="2" fill="#ff0000"/>
<rect x="54" y="623" width="16" height="2" fill="#ff0000"/>
<rect x="70" y="622" width="15" height="2" fill="#ff0000"/>
<rect x="85" y="621" width="25" height="2" fill="#ff0000"/>
<rect x="110" y="620" width="40" height="2" fill="#ff0000"/>
<rect x="150" y="621" width="7" height="2" fill="#ff0000"/>
<rect x="157" y="622" width="9" height="2" fill="#ff0000"/>
<rect x="166" y="623" width="7" height="2" fill="#ff0000"/>
<rect x="173" y="624" width="8" height="2" fill="#ff0000"/>
<rect x="181" y="625" width="5" height="2" fill="#ff0000"/>
<rect x="186" y="626" width="6" height="2" fill="#ff0000"/>
<rect x="192" y="627" width="5" height="2" fill="#ff0000"/>
<rect x="197" y="628" width="6" height="2" fill="#ff0000"/>
<rect x="203" y="629" width="5" height="2" fill="#ff0000"/>
<rect x="208" y="630" width="6" height="2" fill="#ff0000"/>
<rect x="214" y="631" width="5" height="2" fill="#ff0000"/>
<rect x="219" y="632" width="5" height="2" fill="#ff0000"/>
<rect x="224" y="633" width="6" height="2" fill="#ff0000"/>
<rect x="230" y="634" width="5" height="2" fill="#ff0000"/>
<rect x="235" y="635" width="5" height="2" fill="#ff0000"/>
<rect x="240" y="636" width="6" height="2" fill="#ff0000"/>
<rect x="246" y="637" width="5" height="2" fill="#ff0000"/>
<rect x="251" y="638" width="6" height="2" fill="#ff0000"/>
<rect x="257" y="639" width="5" height="2" fill="#ff0000"/>
<rect x="262" y="640" width="5" height="2" fill="#ff0000"/>
<rect x="267" y="641" width="6" height="2" fill="#ff0000"/>
<rect x="273" y="642" width="5" height="2" fill="#ff0000"/>
<rect x="278" y="643" width="5" height="2" fill="#ff0000"/>
<rect x="283" y="644" width="5" height="2" fill="#ff0000"/>
<rect x="288" y="645" width="6" height="2" fill="#ff0000"/>
<rect x="294" y="646" width="5" height="2" fill="#ff0000"/>
<rect x="299" y="647" width="5" height="2" fill="#ff0000"/>
<rect x="304" y="648" width="6" height="2" fill="#ff0000"/>
<rect x="310" y="649" width="7" height="2" fill="#ff0000"/>
<rect x="317" y="650" width="8" height="2" fill="#ff0000"/>
<rect x="325" y="651" width="8" height="2" fill="#ff0000"/>
<rect x="333" y="652" width="8" height="2" fill="#ff0000"/>
<rect x="341" y="653" width="8" height="2" fill="#ff0000"/>
<rect x="349" y="654" width="8" height="2" fill="#ff0000"/>
<rect x="357" y="655" width="9" height="2" fill="#ff0000"/>
<rect x="366" y="656" width="8" height="2" fill="#ff0000"/>
<rect x="374" y="657" width="8" height="2" fill="#ff0000"/>
<rect x="382" y="658" width="8" height="2" fill="#ff0000"/>
<rect x="390" y="659" width="5" height="2" fill="#ff0000"/>
<rect x="395" y="660" width="5" height="2" fill="#ff0000"/>
<rect x="400" y="661" width="6" height="2" fill="#ff0000"/>
<rect x="406" y="662" width="5" height="2" fill="#ff0000"/>
<rect x="411" y="663" width="6" height="2" fill="#ff0000"/>
<rect x="417" y="664" width="5" height="2" fill="#ff0000"/>
<rect x="422" y="665" width="5" height="2" fill="#ff0000"/>
<rect x="427" y="666" width="6" height="2" fill="#ff0000"/>
<rect x="433" y="667" width="5" height="2" fill="#ff0000"/>
<rect x="438" y="668" width="8" height="2" fill="#ff0000"/>
<rect x="446" y="669" width="8" height="2" fill="#ff0000"/>
<rect x="454" y="670" width="16" height="2" fill="#ff0000"/>
<rect x="470" y="671" width="7" height="2" fill="#ff0000"/>
<rect x="477" y="672" width="9" height="2" fill="#ff0000"/>
<rect x="486" y="673" width="15" height="2" fill="#ff0000"/>
<rect x="501" y="674" width="49" height="2" fill="#ff0000"/>
<rect x="550" y="673" width="15" height="2" fill="#ff0000"/>
<rect x="565" y="672" width="17" height="2" fill="#ff0000"/>
<rect x="582" y="671" width="32" height="2" fill="#ff0000"/>
<rect x="614" y="670" width="7" height="2" fill="#ff0000"/>
<rect x="621" y="669" width="9" height="2" fill="#ff0000"/>
<rect x="630" y="668" width="15" height="2" fill="#ff0000"/>
<rect x="645" y="667" width="9" height="2" fill="#ff0000"/>
<rect x="654" y="666" width="8" height="2" fill="#ff0000"/>
<rect x="662" y="665" width="8" height="2" fill="#ff0000"/>
<rect x="670" y="664" width="8" height="2" fill="#ff0000"/>
<rect x="678" y="663" width="8" height="2" fill="#ff0000"/>
<rect x="686" y="662" width="8" height="2" fill="#ff0000"/>
<rect x="694" y="661" width="8" height="2" fill="#ff0000"/>
<rect x="702" y="660" width="8" height="2" fill="#ff0000"/>
<rect x="710" y="659" width="16" height="2" fill="#ff0000"/>
<rect x="726" y="658" width="47" height="2" fill="#ff0000"/>
<rect x="773" y="659" width="16" height="2" fill="#ff0000"/>
<rect x="789" y="660" width="17" height="2" fill="#ff0000"/>
<rect x="806" y="661" width="16" height="2" fill="#ff0000"/>
<rect x="822" y="662" width="8" height="2" fill="#ff0000"/>
<rect x="830" y="663" width="8" height="2" fill="#ff0000"/>
<rect x="838" y="664" width="16" height="2" fill="#ff0000"/>
<rect x="854" y="665" width="47" height="2" fill="#ff0000"/>
<rect x="901" y="664" width="16" height="2" fill="#ff0000"/>
<rect x="917" y="663" width="16" height="2" fill="#ff0000"/>
<rect x="933" y="662" width="8" height="2" fill="#ff0000"/>
<rect x="941" y="661" width="8" height="2" fill="#ff0000"/>
<rect x="949" y="660" width="17" height="2" fill="#ff0000"/>
<rect x="966" y="659" width="8" height="2" fill="#ff0000"/>
<rect x="974" y="658" width="8" height="2" fill="#ff0000"/>
<rect x="982" y="657" width="16" height="2" fill="#ff0000"/>
<rect x="998" y="656" width="31" height="2" fill="#ff0000"/>
<rect x="1029" y="657" width="17" height="2" fill="#ff0000"/>
<rect x="1046" y="658" width="15" height="2" fill="#ff0000"/>
<rect x="1061" y="659" width="9" height="2" fill="#ff0000"/>
<rect x="1070" y="660" width="7" height="2" fill="#ff0000"/>
<rect x="1077" y="661" width="8" height="2" fill="#ff0000"/>
<rect x="1085" y="662" width="8" height="2" fill="#ff0000"/>
<rect x="1093" y="663" width="5" height="2" fill="#ff0000"/>
<rect x="1098" y="664" width="6" height="2" fill="#ff0000"/>
<rect x="1104" y="665" width="5" height="2" fill="#ff0000"/>
<rect x="1109" y="666" width="8" height="2" fill="#ff0000"/>
<rect x="1117" y="667" width="9" height="2" fill="#ff0000"/>
<rect x="1126" y="668" width="8" height="2" fill="#ff0000"/>
<rect x="1134" y="669" width="8" height="2" fill="#ff0000"/>
<rect x="1142" y="670" width="4" height="2" fill="#ff0000"/>
<rect x="1146" y="671" width="6" height="2" fill="#ff0000"/>
<rect x="1152" y="672" width="6" height="2" fill="#ff0000"/>
<rect x="1158" y="673" width="4" height="2" fill="#ff0000"/>
<rect x="1162" y="674" width="7" height="2" fill="#ff0000"/>
<rect x="1169" y="675" width="5" height="2" fill="#ff0000"/>
<rect x="1174" y="676" width="8" height="2" fill="#ff0000"/>
<rect x="1182" y="677" width="7" height="2" fill="#ff0000"/>
<rect x="1189" y="678" width="6" height="2" fill="#ff0000"/>
<rect x="1195" y="679" width="5" height="2" fill="#ff0000"/>
<rect x="1200" y="680" width="5" height="2" fill="#ff0000"/>
<rect x="1205" y="681" width="6" height="2" fill="#ff0000"/>
<rect x="1211" y="682" width="5" height="2" fill="#ff0000"/>
<rect x="1216" y="683" width="5" height="2" fill="#ff0000"/>
<rect x="1221" y="684" width="5" height="2" fill="#ff0000"/>
<rect x="1226" y="685" width="6" height="2" fill="#ff0000"/>
<rect x="1232" y="686" width="5" height="2" fill="#ff0000"/>
<rect x="1237" y="687" width="4" height="2" fill="#ff0000"/>
<rect x="1241" y="688" width="5" height="2" fill="#ff0000"/>
<rect x="1246" y="689" width="3" height="2" fill="#ff0000"/>
<rect x="1249" y="690" width="5" height="2" fill="#ff0000"/>
<rect x="1254" y="691" width="3" height="2" fill="#ff0000"/>
<rect x="1257" y="692" width="4" height="2" fill="#ff0000"/>
<rect x="1261" y="693" width="4" height="2" fill="#ff0000"/>
<rect x="1265" y="694" width="4" height="2" fill="#ff0000"/>
<rect x="1269" y="695" width="4" height="2" fill="#ff0000"/>
<rect x="1273" y="696" width="4" height="2" fill="#ff0000"/>
<rect x="1277" y="697" width="4" height="2" fill="#ff0000"/>
<rect x="1281" y="698" width="5" height="2" fill="#ff0000"/>
</g>
<text x="9" y="623" font-size="9.8" fill="#000" stroke="#000" stroke-width="0.1" textLength="134" lengthAdjust="spacingAndGlyphs" >MACD(12,26,9) -1.0774 -0.5548</text>
<rect x="1642" y="679" width="2" height="1" fill="#000"/>
<rect x="1642" y="612" width="2" height="1" fill="#000"/>
<rect x="1642" y="723" width="2" height="1" fill="#000"/>
<rect x="1642" y="728" width="2" height="1" fill="#000"/>
<rect x="1642" y="835" width="2" height="1" fill="#000"/>
<text x="1645" y="621" font-size="9.8" fill="#000" stroke="#000" stroke-width="0.1" textLength="28" lengthAdjust="spacingAndGlyphs" >1.8415</text>
<text x="1645" y="683" font-size="9.8" fill="#000" stroke="#000" stroke-width="0.1" textLength="19" lengthAdjust="spacingAndGlyphs" >0.00</text>
<text x="1645" y="721" font-size="9.8" fill="#000" stroke="#000" stroke-width="0.1" textLength="31" lengthAdjust="spacingAndGlyphs" >-1.2164</text>
<g clip-path="url(#crsi)">
<line x1="6" y1="749.5" x2="1641" y2="749.5" stroke="#000" stroke-width="1" stroke-dasharray="3,3"/>
<line x1="6" y1="781.5" x2="1641" y2="781.5" stroke="#000" stroke-width="1" stroke-dasharray="3,3"/>
<line x1="6" y1="819.5" x2="1641" y2="819.5" stroke="#000" stroke-width="1" stroke-dasharray="3,3"/>
<polyline points="5,754.7 21,759.5 37,759.5 53,760 69,760.9 85,765.4 101,765.4 117,764.4 133,763.8 149,763.8 165,771.7 181,772.8 197,772.8 213,772.8 229,776.7 245,776.7 261,775.2 277,770.9 293,767 309,773.8 325,774.4 341,774.8 357,776.5 373,776.5 389,802.1 405,792.8 421,784 437,777.1 453,773.8 469,777.1 485,780.1 501,780.1 517,779.1 533,779.1 549,779.1 565,778.1 581,769.9 597,769.9 613,769.9 629,768.3 645,766.8 661,766.8 677,766.8 693,766.8 709,769.3 725,773.2 741,781.6 757,773.8 773,781.6 789,780.6 805,780.6 821,780.1 837,778.7 853,770.3 869,766.4 885,763.1 901,763.1 917,761.9 933,764.8 949,763.8 965,768.3 981,776.5 997,776.1 1013,775.8 1029,779.1 1045,783.4 1061,785.9 1077,782 1093,784.5 1109,784.9 1125,790.8 1141,792.4 1157,796.7 1173,798.6 1189,799.2 1205,801.5 1221,804.5 1237,811.9 1253,815.2 1269,815.8 1285,815.8" fill="none" stroke="#1e90ff" stroke-width="2"/>
</g>
<text x="9" y="739" font-size="9.8" fill="#000" stroke="#000" stroke-width="0.1" textLength="67" lengthAdjust="spacingAndGlyphs" >RSI(14) 17.7307</text>
<text x="1645" y="737" font-size="9.8" fill="#000" stroke="#000" stroke-width="0.1" textLength="15" lengthAdjust="spacingAndGlyphs" >100</text>
<text x="1645" y="753" font-size="9.8" fill="#000" stroke="#000" stroke-width="0.1" textLength="10" lengthAdjust="spacingAndGlyphs" >80</text>
<text x="1645" y="785" font-size="9.8" fill="#000" stroke="#000" stroke-width="0.1" textLength="10" lengthAdjust="spacingAndGlyphs" >50</text>
<text x="1645" y="823" font-size="9.8" fill="#000" stroke="#000" stroke-width="0.1" textLength="10" lengthAdjust="spacingAndGlyphs" >15</text>
<text x="1645" y="833" font-size="9.8" fill="#000" stroke="#000" stroke-width="0.1" textLength="5" lengthAdjust="spacingAndGlyphs" >0</text>
<rect x="5" y="837" width="1" height="3" fill="#000"/>
<text x="4" y="849" font-size="9.8" fill="#000" stroke="#000" stroke-width="0.1" textLength="51.8" lengthAdjust="spacingAndGlyphs" >17 Oct 2022</text>
<rect x="69" y="837" width="1" height="3" fill="#000"/>
<text x="68" y="849" font-size="9.8" fill="#000" stroke="#000" stroke-width="0.1" textLength="54.4" lengthAdjust="spacingAndGlyphs" >18 Oct 04:00</text>
<rect x="133" y="837" width="1" height="3" fill="#000"/>
<text x="132" y="849" font-size="9.8" fill="#000" stroke="#000" stroke-width="0.1" textLength="54.4" lengthAdjust="spacingAndGlyphs" >18 Oct 20:00</text>
<rect x="197" y="837" width="1" height="3" fill="#000"/>
<text x="196" y="849" font-size="9.8" fill="#000" stroke="#000" stroke-width="0.1" textLength="54.4" lengthAdjust="spacingAndGlyphs" >19 Oct 12:00</text>
<rect x="261" y="837" width="1" height="3" fill="#000"/>
<text x="260" y="849" font-size="9.8" fill="#000" stroke="#000" stroke-width="0.1" textLength="54.4" lengthAdjust="spacingAndGlyphs" >20 Oct 04:00</text>
<rect x="325" y="837" width="1" height="3" fill="#000"/>
<text x="324" y="849" font-size="9.8" fill="#000" stroke="#000" stroke-width="0.1" textLength="54.4" lengthAdjust="spacingAndGlyphs" >20 Oct 20:00</text>
<rect x="389" y="837" width="1" height="3" fill="#000"/>
<text x="388" y="849" font-size="9.8" fill="#000" stroke="#000" stroke-width="0.1" textLength="54.4" lengthAdjust="spacingAndGlyphs" >21 Oct 12:00</text>
<rect x="453" y="837" width="1" height="3" fill="#000"/>
<text x="452" y="849" font-size="9.8" fill="#000" stroke="#000" stroke-width="0.1" textLength="54.4" lengthAdjust="spacingAndGlyphs" >24 Oct 04:00</text>
<rect x="517" y="837" width="1" height="3" fill="#000"/>
<text x="516" y="849" font-size="9.8" fill="#000" stroke="#000" stroke-width="0.1" textLength="54.4" lengthAdjust="spacingAndGlyphs" >24 Oct 20:00</text>
<rect x="581" y="837" width="1" height="3" fill="#000"/>
<text x="580" y="849" font-size="9.8" fill="#000" stroke="#000" stroke-width="0.1" textLength="54.4" lengthAdjust="spacingAndGlyphs" >25 Oct 12:00</text>
<rect x="645" y="837" width="1" height="3" fill="#000"/>
<text x="644" y="849" font-size="9.8" fill="#000" stroke="#000" stroke-width="0.1" textLength="54.4" lengthAdjust="spacingAndGlyphs" >26 Oct 04:00</text>
<rect x="709" y="837" width="1" height="3" fill="#000"/>
<text x="708" y="849" font-size="9.8" fill="#000" stroke="#000" stroke-width="0.1" textLength="54.4" lengthAdjust="spacingAndGlyphs" >26 Oct 20:00</text>
<rect x="773" y="837" width="1" height="3" fill="#000"/>
<text x="772" y="849" font-size="9.8" fill="#000" stroke="#000" stroke-width="0.1" textLength="54.4" lengthAdjust="spacingAndGlyphs" >27 Oct 12:00</text>
<rect x="837" y="837" width="1" height="3" fill="#000"/>
<text x="836" y="849" font-size="9.8" fill="#000" stroke="#000" stroke-width="0.1" textLength="54.4" lengthAdjust="spacingAndGlyphs" >28 Oct 04:00</text>
<rect x="901" y="837" width="1" height="3" fill="#000"/>
<text x="900" y="849" font-size="9.8" fill="#000" stroke="#000" stroke-width="0.1" textLength="54.4" lengthAdjust="spacingAndGlyphs" >30 Oct 23:00</text>
<rect x="965" y="837" width="1" height="3" fill="#000"/>
<text x="964" y="849" font-size="9.8" fill="#000" stroke="#000" stroke-width="0.1" textLength="54.4" lengthAdjust="spacingAndGlyphs" >31 Oct 12:00</text>
<rect x="1029" y="837" width="1" height="3" fill="#000"/>
<text x="1028" y="849" font-size="9.8" fill="#000" stroke="#000" stroke-width="0.1" textLength="52.6" lengthAdjust="spacingAndGlyphs" >1 Nov 04:00</text>
<rect x="1093" y="837" width="1" height="3" fill="#000"/>
<text x="1092" y="849" font-size="9.8" fill="#000" stroke="#000" stroke-width="0.1" textLength="52.6" lengthAdjust="spacingAndGlyphs" >1 Nov 20:00</text>
<rect x="1157" y="837" width="1" height="3" fill="#000"/>
<text x="1156" y="849" font-size="9.8" fill="#000" stroke="#000" stroke-width="0.1" textLength="52.6" lengthAdjust="spacingAndGlyphs" >2 Nov 12:00</text>
<rect x="1221" y="837" width="1" height="3" fill="#000"/>
<text x="1220" y="849" font-size="9.8" fill="#000" stroke="#000" stroke-width="0.1" textLength="52.6" lengthAdjust="spacingAndGlyphs" >3 Nov 04:00</text>
<rect x="1285" y="837" width="1" height="3" fill="#000"/>
<text x="1284" y="849" font-size="9.8" fill="#000" stroke="#000" stroke-width="0.1" textLength="52.6" lengthAdjust="spacingAndGlyphs" >3 Nov 20:00</text>
</svg>
</body></html>
